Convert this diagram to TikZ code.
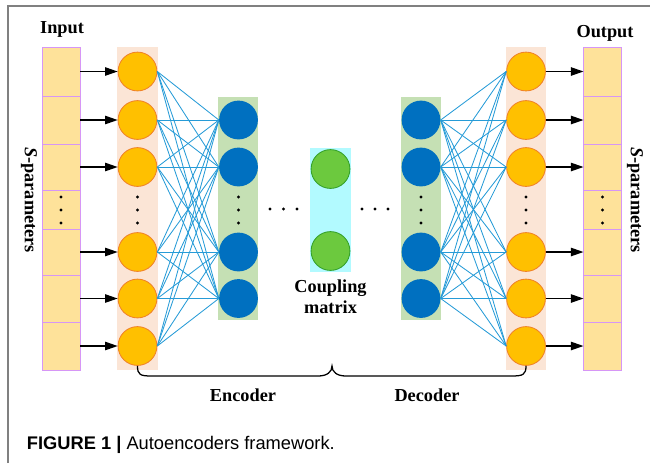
\documentclass[tikz,border=0pt]{standalone}
\usepackage{fontspec}
\setmainfont{Liberation Serif}
\newfontfamily\capfont{Liberation Sans}
\usetikzlibrary{arrows.meta}

\definecolor{boxfill}{RGB}{254,226,154}
\definecolor{boxline}{RGB}{214,150,246}
\definecolor{peach}{RGB}{251,229,214}
\definecolor{leaf}{RGB}{197,224,180}
\definecolor{aqua}{RGB}{178,250,255}
\definecolor{gold}{RGB}{255,192,0}
\definecolor{goldline}{RGB}{240,130,40}
\definecolor{navy}{RGB}{0,112,192}
\definecolor{lime}{RGB}{108,201,62}
\definecolor{limeline}{RGB}{50,160,40}
\definecolor{wire}{RGB}{38,155,215}

\tikzset{
  lbl/.style={font=\fontsize{13}{15}\selectfont\bfseries},
  cell/.style={draw=boxline, fill=boxfill, line width=0.7pt, minimum width=0.95cm, inner sep=0, outer sep=0},
  io/.style={circle, draw=goldline, fill=gold, line width=0.6pt, minimum size=0.97cm, inner sep=0},
  hid/.style={circle, fill=navy, minimum size=0.97cm, inner sep=0},
  code/.style={circle, draw=limeline, fill=lime, line width=0.6pt, minimum size=0.97cm, inner sep=0},
  wire/.style={draw=wire, line width=0.6pt},
  feed/.style={-{Triangle[length=9pt,width=6pt]}, line width=0.9pt}
}

\begin{document}
\begin{tikzpicture}[x=0.025cm, y=-0.025cm]
\useasboundingbox (0,0) rectangle (650,463);

% frame
\draw[gray, line width=1pt] (8,463) -- (8,6) -- (650,6);

% column backgrounds
\fill[peach] (117,47) rectangle (158,370);
\fill[peach] (506,47) rectangle (546,370);
\fill[leaf] (218,97) rectangle (258,320);
\fill[leaf] (401,97) rectangle (441,320);
\fill[aqua] (310,148) rectangle (351,272);

% input cells
\node[cell, minimum height=1.225cm] (ib1) at (61,71.5) {};
\node[cell, minimum height=1.2cm] (ib2) at (61,120) {};
\node[cell, minimum height=1.15cm] (ib3) at (61,167) {};
\node[cell, minimum height=0.975cm] (ib4) at (61,209.5) {};
\node[cell, minimum height=1.15cm] (ib5) at (61,252) {};
\node[cell, minimum height=1.175cm] (ib6) at (61,298.5) {};
\node[cell, minimum height=1.2cm] (ib7) at (61,346) {};

% output cells
\node[cell, minimum height=1.225cm] (ob1) at (602.5,71.5) {};
\node[cell, minimum height=1.2cm] (ob2) at (602.5,120) {};
\node[cell, minimum height=1.15cm] (ob3) at (602.5,167) {};
\node[cell, minimum height=0.975cm] (ob4) at (602.5,209.5) {};
\node[cell, minimum height=1.15cm] (ob5) at (602.5,252) {};
\node[cell, minimum height=1.175cm] (ob6) at (602.5,298.5) {};
\node[cell, minimum height=1.2cm] (ob7) at (602.5,346) {};

% input / output layers
\node[io] (in1) at (137.5,71.5) {};
\node[io] (in2) at (137.5,120) {};
\node[io] (in3) at (137.5,167) {};
\node[io] (in5) at (137.5,252) {};
\node[io] (in6) at (137.5,298.5) {};
\node[io] (in7) at (137.5,346) {};

\node[io] (out1) at (526,71.5) {};
\node[io] (out2) at (526,120) {};
\node[io] (out3) at (526,167) {};
\node[io] (out5) at (526,252) {};
\node[io] (out6) at (526,298.5) {};
\node[io] (out7) at (526,346) {};

% hidden layers
\node[hid] (enc1) at (238.5,120) {};
\node[hid] (enc2) at (238.5,167) {};
\node[hid] (enc4) at (238.5,252) {};
\node[hid] (enc5) at (238.5,298.5) {};

\node[hid] (dec1) at (421,120) {};
\node[hid] (dec2) at (421,167) {};
\node[hid] (dec4) at (421,252) {};
\node[hid] (dec5) at (421,298.5) {};

% coupling matrix
\node[code] (cm1) at (330.5,169) {};
\node[code] (cm2) at (330.5,251) {};

% full connections
\foreach \a in {1,2,3,5,6,7}
  \foreach \b in {1,2,4,5} {
    \draw[wire] (in\a.east) -- (enc\b.west);
    \draw[wire] (dec\b.east) -- (out\a.west);
  }

% feeding arrows
\foreach \a in {1,2,3,5,6,7} {
  \draw[feed] (ib\a.east) -- (in\a.west);
  \draw[feed] (out\a.east) -- (ob\a.west);
}

% dots
\foreach \x in {61,137.5,238.5,421,526,602.5}
  \foreach \y in {197,210,223}
    \fill (\x,\y) circle (1.7);
\foreach \x in {270,283.5,297,362,375,388}
  \fill (\x,209) circle (1.7);

% brace under encoder / decoder
\draw[line width=0.9pt] (in7.south) .. controls +(0,9) and +(-12,0) .. (152,376) -- (318,376)
  .. controls +(9,0) and +(0,6) .. (332,366) .. controls +(0,6) and +(-9,0) .. (346,376)
  -- (511,376) .. controls +(12,0) and +(0,9) .. (out7.south);

% labels
\node[lbl] (inlbl) at (62,29) {Input};
\node[lbl] (outlbl) at (605,33) {Output};
\node[lbl, rotate=-90] (sin) at (29,200) {\textit{S}-parameters};
\node[lbl, rotate=-90] (sout) at (635,200) {\textit{S}-parameters};
\node[lbl, align=center] (cmlbl) at (330.5,297) {Coupling\\matrix};
\node[lbl] (enclbl) at (243,395) {Encoder};
\node[lbl] (declbl) at (427,395) {Decoder};

% caption
\node[anchor=west, font=\capfont\fontsize{13}{15}\selectfont] (cap) at (22,445)
  {\textbf{FIGURE 1 |} Autoencoders framework.};
\end{tikzpicture}
\end{document}
